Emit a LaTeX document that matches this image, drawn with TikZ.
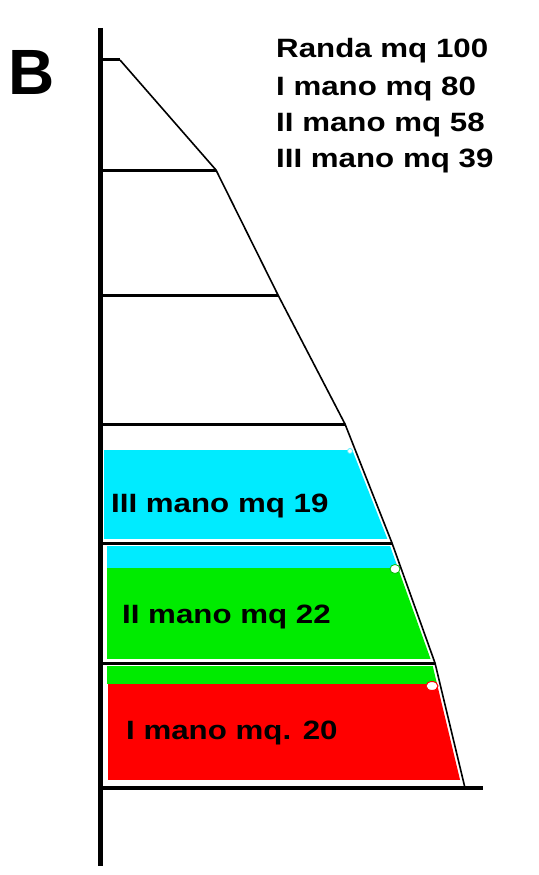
\documentclass[tikz,border=0pt]{standalone}
\usepackage{fontspec}
\usepackage{graphicx}
\setmainfont{Liberation Sans}
\definecolor{sailcyan}{RGB}{0,235,255}
\definecolor{sailgreen}{RGB}{0,235,0}
\definecolor{sailred}{RGB}{255,0,0}
\tikzset{
  spar/.style={line width=4.5pt, line cap=butt},
  batten/.style={line width=3pt},
  leechline/.style={line width=1.6pt, line join=round},
  lbl/.style={inner sep=0pt, anchor=base west, font=\fontsize{26.5}{30}\selectfont\bfseries},
}
\newcommand{\wide}[1]{\scalebox{1.18}[1]{#1}}
\begin{document}
\begin{tikzpicture}[x=1pt,y=-1pt]
\useasboundingbox (0,0) rectangle (538,875);
% leech points
\coordinate (h0) at (120,60);
\coordinate (h1) at (216,170);
\coordinate (h2) at (278,295);
\coordinate (h3) at (345,424);
\coordinate (h4) at (392,543);
\coordinate (h5) at (435,663);
\coordinate (h6) at (465,788);
% coloured panels
\begin{scope}
\clip (104,0) -- (213,170) -- (275,295) -- (342,424) -- (389,543) -- (432,663) -- (462,788) -- (104,788) -- cycle;
\fill[sailcyan] (104,450) rectangle (520,539);
\fill[sailcyan] (107,546) rectangle (520,568);
\fill[sailgreen] (107,568) rectangle (520,659);
\fill[sailgreen] (107,666) rectangle (520,684);
\fill[sailred] (108,684) rectangle (520,780);
\end{scope}
\draw[sailcyan!70!white, fill=white, line width=0.8pt] (350,451) circle (2.5);
\draw[sailgreen!80!black, fill=white, line width=0.8pt] (395,569) ellipse (5 and 4.5);
\draw[sailred, fill=white, line width=1pt] (432,686) ellipse (6 and 4.5);
% battens
\draw[batten] (101,60) -- (h0);
\draw[batten] (101,170) -- (h1);
\draw[batten] (101,295) -- (h2);
\draw[batten] (101,424) -- (h3);
\draw[batten] (101,543) -- (h4);
\draw[batten] (101,663) -- (h5);
% leech
\draw[leechline] (h0) -- (h1) -- (h2) -- (h3) -- (h4) -- (h5) -- (h6);
% mast and boom
\coordinate (mtop) at (100.5,28);
\coordinate (mbot) at (100.5,866);
\coordinate (bend) at (483,788);
\draw[spar] (mtop) -- (mbot);
\draw[spar] (98.25,788) -- (bend);
% texts
\node[inner sep=0pt, anchor=base west, font=\fontsize{64}{70}\selectfont\bfseries] (B) at (8,94) {B};
\node[lbl] (t1) at (276,57) {\wide{Randa mq 100}};
\node[lbl] (t2) at (276,95) {\wide{I mano mq 80}};
\node[lbl] (t3) at (276,131) {\wide{II mano mq 58}};
\node[lbl] (t4) at (276,167) {\wide{III mano mq 39}};
\node[lbl] (l3) at (111,512) {\wide{III mano mq 19}};
\node[lbl] (l2) at (122,623) {\wide{II mano mq 22}};
\node[lbl] (l1) at (126,739) {\wide{I mano mq. 20}};
\end{tikzpicture}
\end{document}
